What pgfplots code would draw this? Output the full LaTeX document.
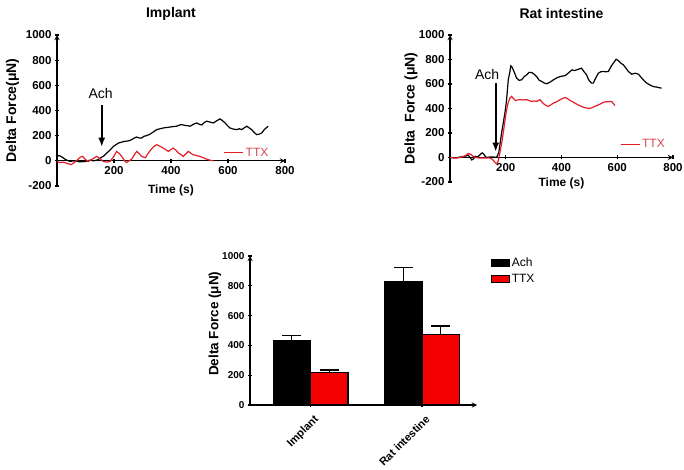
\documentclass[border=0pt]{standalone}
\usepackage{fontspec}
\setmainfont{Liberation Sans}
\usepackage{pgfplots}
\pgfplotsset{compat=1.18}
\usetikzlibrary{arrows.meta}
\definecolor{ttxred}{RGB}{228,30,38}
\definecolor{ttxtext}{RGB}{215,70,80}
\definecolor{barred}{RGB}{245,0,0}

\pgfplotsset{
  common/.style={
    scale only axis,
    axis line style={-, line width=1.3pt},
    tick align=outside, major tick length=4pt,
    tick style={line width=1.1pt, black},
    /pgf/number format/assume math mode=true,
    /pgf/number format/1000 sep={},
    hide obscured x ticks=false, hide obscured y ticks=false,
  },
  linestyle/.style={
    common,
    ticklabel style={font=\bfseries\fontsize{11.5}{12}\selectfont},
    axis x line=middle, axis y line=left,
    xmin=0, xmax=800, ymin=-200, ymax=1000,
    xtick={200,400,600,800}, ytick={-200,0,200,400,600,800,1000},
    xlabel={Time (s)},
    xlabel style={font=\bfseries\fontsize{12}{13}\selectfont},
    ylabel style={font=\bfseries\fontsize{14}{15}\selectfont},
    title style={font=\bfseries\fontsize{14}{15}\selectfont, at={(axis description cs:0.5,1)}, anchor=center, yshift=15pt},
    legend style={draw=none, fill=none, text=ttxtext, font=\fontsize{12}{13}\selectfont},
    legend image code/.code={\draw[#1] (0pt,0pt) -- (14pt,0pt); \path (0pt,0pt) -- (19pt,0pt);},
  },
}

\begin{document}
\begin{tikzpicture}
\useasboundingbox (0,0) rectangle (684pt,470pt);

% ---------- Implant ----------
\begin{axis}[linestyle,
  at={(57pt,284pt)}, anchor=south west, width=228pt, height=151pt,
  title={Implant},
  ylabel={Delta Force(μN)},
  ylabel style={at={(axis description cs:-0.195,0.5)}, anchor=center, rotate=0},
  xlabel style={at={(axis description cs:0.5,0)}, anchor=center, yshift=-4pt},
  legend style={at={(axis cs:573,64)}, anchor=west},
]
\addplot[black, line width=1.2pt, forget plot] coordinates {
(0,35) (8,42) (18,30) (30,10) (45,-5) (60,0) (80,-8) (100,-5) (115,5) (130,0) (145,10) (151,21) (165,40) (174,61) (186,85) (198,115) (207,128) (215,141) (226,148) (238,155) (250,158) (262,168) (270,180) (279,189) (288,182) (297,181) (305,195) (314,200) (325,210) (335,225) (350,248) (362,255) (373,261) (385,265) (397,269) (408,272) (420,275) (430,285) (438,288) (447,282) (455,280) (462,278) (467,275) (478,290) (490,301) (500,290) (508,285) (517,305) (525,315) (537,308) (549,301) (560,318) (572,333) (580,320) (590,301) (598,280) (607,261) (619,252) (631,248) (640,255) (648,248) (657,262) (666,275) (674,262) (683,248) (692,225) (701,208) (710,212) (718,221) (728,250) (736,265) (741,275)
};
\addplot[ttxred, line width=1.2pt] coordinates {
(0,-5) (10,-15) (20,-10) (35,-20) (50,-30) (60,-15) (70,5) (82,30) (90,35) (100,10) (110,-5) (125,15) (139,35) (150,20) (162,-5) (175,-10) (186,-5) (198,30) (209,75) (218,60) (227,35) (236,5) (244,-13) (253,0) (262,13) (272,50) (280,75) (289,55) (297,35) (310,25) (320,60) (330,90) (340,115) (350,128) (362,115) (373,101) (382,88) (391,75) (400,90) (408,101) (417,85) (426,61) (435,50) (443,35) (452,55) (461,75) (470,60) (478,48) (490,42) (502,35) (513,25) (525,13) (537,5) (549,0)
};
\addlegendentry{TTX}
\draw[line width=1.6pt, -{Latex[length=9pt,width=7pt]}] (axis cs:157,440) -- (axis cs:157,112);
\node[font=\fontsize{14}{15}\selectfont] at (axis cs:153,536) {Ach};
\end{axis}

% ---------- Rat intestine ----------
\begin{axis}[linestyle,
  at={(450pt,288pt)}, anchor=south west, width=223pt, height=147pt,
  title={Rat intestine},
  ylabel={Delta\ \ Force (μN)},
  ylabel style={at={(axis description cs:-0.175,0.5)}, anchor=center, rotate=0},
  xlabel style={at={(axis description cs:0.5,0)}, anchor=center, yshift=-1pt},
  legend style={at={(axis cs:598,106)}, anchor=west},
]
\addplot[black, line width=1.2pt, forget plot] coordinates {
(0,0) (20,-3) (40,5) (55,10) (65,20) (72,0) (78,-20) (85,-10) (90,10) (100,5) (108,24) (115,38) (120,30) (130,0) (145,5) (155,5) (167,0) (175,40) (185,200) (197,363) (203,471) (209,634) (215,702) (218,748) (222,740) (228,710) (239,648) (248,630) (257,634) (266,660) (275,675) (284,695) (293,694) (302,680) (311,660) (320,630) (329,621) (338,608) (347,602) (359,615) (371,634) (383,650) (395,661) (404,665) (413,668) (425,690) (437,715) (448,710) (460,720) (472,729) (481,700) (490,675) (496,640) (502,621) (508,607) (514,607) (523,650) (532,688) (541,700) (550,702) (559,700) (568,702) (577,740) (586,770) (596,802) (604,790) (613,770) (622,756) (631,730) (640,702) (652,680) (664,688) (676,680) (688,648) (697,625) (706,607) (715,595) (723,585) (732,578) (741,575) (750,570) (759,566)
};
\addplot[ttxred, line width=1.2pt] coordinates {
(0,0) (20,-5) (40,0) (55,15) (66,33) (75,25) (85,5) (100,-3) (120,-5) (140,-3) (150,-10) (158,-30) (163,-45) (168,-50) (173,-30) (178,30) (185,110) (191,200) (197,300) (203,390) (209,450) (215,485) (221,499) (228,480) (235,465) (243,470) (251,472) (263,470) (275,472) (284,465) (293,458) (302,462) (311,458) (317,465) (323,472) (329,455) (335,440) (344,425) (353,417) (362,430) (371,444) (383,455) (395,472) (404,482) (413,490) (422,480) (431,465) (440,455) (448,444) (457,432) (466,423) (478,410) (490,404) (499,400) (508,405) (517,415) (526,423) (538,435) (550,450) (559,455) (568,455) (580,458) (586,440) (592,423)
};
\addlegendentry{TTX}
\draw[line width=1.6pt, -{Latex[length=9pt,width=7pt]}] (axis cs:164,607) -- (axis cs:164,48);
\node[font=\fontsize{14}{15}\selectfont] at (axis cs:133,675) {Ach};
\end{axis}

% ---------- Bar chart ----------
\begin{axis}[common,
  ticklabel style={font=\bfseries\fontsize{10}{11}\selectfont},
  at={(250pt,65pt)}, anchor=south west, width=227pt, height=149pt,
  axis x line=bottom, axis y line=left,
  xmin=0.457, xmax=2.493, ymin=0, ymax=1000,
  xtick={1,2}, xticklabels={Implant,Rat intestine},
  xticklabel style={rotate=45, anchor=north east, inner sep=1pt, xshift=-2pt, yshift=-6pt, font=\bfseries\fontsize{11}{12}\selectfont},
  ytick={0,200,400,600,800,1000},
  ylabel={Delta Force (μN)},
  ylabel style={font=\bfseries\fontsize{13.5}{14}\selectfont, at={(axis description cs:-0.155,0.545)}, anchor=center, rotate=0},
  legend style={draw=none, fill=none, at={(rel axis cs:1.06,1.0)}, anchor=north west,
    font=\fontsize{12}{13}\selectfont, row sep=2pt, inner sep=0pt},
  legend cell align=left,
]
\addplot[ybar, bar width=0.336, bar shift=0pt, fill=black, draw=black, line width=1.1pt,
  legend image code/.code={\draw[fill=black, draw=black, line width=1pt] (0pt,-3.5pt) rectangle (18pt,3.5pt);},
  error bars/.cd, y dir=plus, y explicit,
  error bar style={line width=1.3pt, black},
  error mark options={rotate=90, mark size=9.5pt, line width=1.3pt, black}]
  coordinates {(0.832,430) +- (0,35) (1.832,827) +- (0,97)};
\addlegendentry{Ach}
\addplot[ybar, bar width=0.336, bar shift=0pt, fill=barred, draw=black, line width=1.1pt,
  legend image code/.code={\draw[fill=barred, draw=black, line width=1pt] (0pt,-3.5pt) rectangle (18pt,3.5pt);},
  error bars/.cd, y dir=plus, y explicit,
  error bar style={line width=1.3pt, black},
  error mark options={rotate=90, mark size=9.5pt, line width=1.3pt, black}]
  coordinates {(1.168,219) +- (0,16) (2.168,476) +- (0,54)};
\addlegendentry{TTX}
\end{axis}
\end{tikzpicture}
\end{document}
